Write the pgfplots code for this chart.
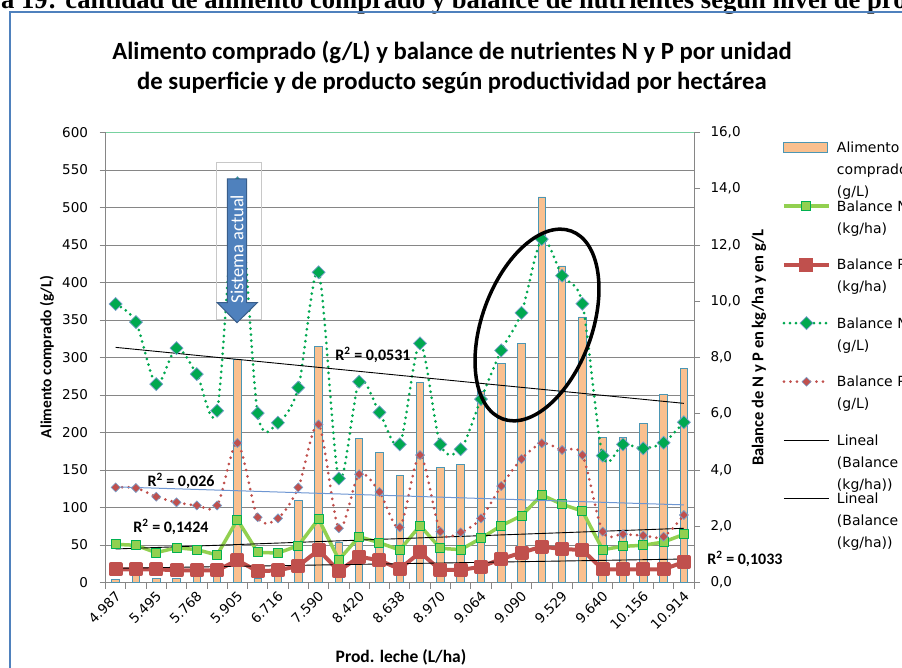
\documentclass[border=0pt]{standalone}
\usepackage{pgfplots}
\usepackage{pgfplotstable}
\pgfplotsset{compat=1.18}
\usepackage{fontspec}
\setmainfont{DejaVu Sans}
\newfontfamily\calibri{Carlito}
\newfontfamily\timesf{Liberation Serif}
\usetikzlibrary{shapes.geometric}

\definecolor{barfill}{RGB}{250,192,143}
\definecolor{barline}{RGB}{75,150,180}
\definecolor{ngreen}{RGB}{146,208,80}
\definecolor{ndark}{RGB}{0,176,80}
\definecolor{pred}{RGB}{192,80,77}
\definecolor{dgreen}{RGB}{0,168,80}
\definecolor{gridgray}{RGB}{134,134,134}
\definecolor{topgreen}{RGB}{120,210,160}
\definecolor{steel}{RGB}{120,160,205}
\definecolor{trendblue}{RGB}{110,150,210}
\definecolor{arrowblue}{RGB}{79,129,189}
\definecolor{arrowdark}{RGB}{56,93,138}
\definecolor{framegray}{RGB}{200,200,200}
\definecolor{chartframe}{RGB}{79,129,189}

\pgfplotstableread{
x bar nkg pkg ngl pgl
0 4 50.9 17.6 9.90 3.38
1 20 49.6 17.6 9.26 3.36
2 6 39.8 17.6 7.05 3.05
3 5 46.4 16.2 8.33 2.85
4 18 43.8 16.2 7.41 2.74
5 8 36.7 16.2 6.11 2.74
6 297 83.8 29.6 14.2 4.96
7 6 40.2 14.9 6.02 2.32
8 18 39.3 16.2 5.68 2.28
9 110 49.1 22.0 6.93 3.38
10 315 84.7 43.3 11.03 5.62
11 54 30.4 15.3 3.70 1.93
12 192 61.1 34.4 7.14 3.85
13 174 53.0 29.5 6.05 3.22
14 143 43.3 18.0 4.91 1.96
15 267 75.8 40.2 8.50 4.53
16 154 45.6 16.7 4.91 1.81
17 157 43.8 16.7 4.74 1.78
18 255 58.9 21.0 6.52 2.28
19 292 75.8 31.3 8.25 3.43
20 319 89.1 39.8 9.59 4.39
21 514 116.7 47.8 12.21 4.95
22 422 104.2 44.7 10.91 4.71
23 354 95.3 43.3 9.91 4.53
24 194 43.8 17.6 4.51 1.81
25 194 48.2 17.6 4.91 1.72
26 212 49.6 17.6 4.77 1.67
27 251 54.0 17.6 4.97 1.63
28 285 64.2 27.3 5.70 2.40
}\datatable

\newcommand\legtext[2]{\parbox[t][#1][t]{120pt}{\fontsize{14}{22}\selectfont\strut #2}}

\pgfplotsset{
  commonaxis/.style={
    at={(105.5pt,84.5pt)}, anchor=south west,
    scale only axis, width=588.5pt, height=450pt,
    xmin=-0.5, xmax=28.5,
    axis line style={draw=gridgray, line width=0.8pt, -},
    tick align=outside, major tick length=6pt,
    tick style={draw=gridgray, line width=0.8pt},
    tick label style={font=\fontsize{13.5}{16}\selectfont, text=black},
    /pgf/number format/assume math mode=true,
  },
  mylegline/.style={legend image code/.code={%
    \draw[mark repeat=2, mark phase=2, ##1] plot coordinates {(0pt,5pt) (22.5pt,5pt) (45pt,5pt)};}},
  barlegend/.style={legend image code/.code={%
    \draw[fill=barfill, draw=barline, line width=1pt] (0pt,0pt) rectangle (44pt,10pt);}},
}

\begin{document}
\begin{tikzpicture}[x=1pt,y=1pt]
\useasboundingbox (0,0) rectangle (902,667);
\clip (0,0) rectangle (902,667);

% heading (cropped in the reference)
\node[anchor=base west, inner sep=0pt] at (1,658.5) {\fontsize{26.6}{30}\timesf\bfseries a 19: cantidad de alimento comprado y balance de nutrientes según nivel de pro};
% chart frame
\draw[chartframe, line width=2pt] (10,-5) -- (10,654.5) -- (910,654.5);

% title
\node[anchor=base, inner sep=0pt] at (452,607) {\fontsize{24.7}{28}\calibri\bfseries Alimento comprado (g/L) y balance de nutrientes N y P por unidad};
\node[anchor=base, inner sep=0pt] at (452,577) {\fontsize{24.7}{28}\calibri\bfseries de superficie y de producto según productividad por hectárea};

\begin{axis}[commonaxis,
  ymin=0, ymax=600,
  axis y line*=left, axis x line*=bottom,
  xtick={-0.5,0.5,...,28.5}, xticklabels={},
  extra x ticks={0,2,...,28},
  extra x tick labels={4.987,5.495,5.768,5.905,6.716,7.590,8.420,8.638,8.970,9.064,9.090,9.529,9.640,10.156,10.914},
  extra x tick style={major tick length=0pt, xticklabel style={xshift=5pt, yshift=-9pt, rotate=45, anchor=east}},
  ytick={0,50,...,550},
  extra y ticks={600},
  extra y tick style={major grid style={draw=topgreen, line width=1.5pt}},
  yticklabel style={xshift=-8pt},
  ymajorgrids, major grid style={draw=gridgray, line width=0.8pt},
  ylabel={\fontsize{15.5}{19}\calibri\bfseries Alimento comprado (g/L)},
  ylabel style={at={(axis description cs:-0.0994,0.501)}, anchor=center},
  xlabel={\fontsize{17.5}{20}\calibri\bfseries Prod. leche (L/ha)},
  xlabel style={at={(axis description cs:0.5021,-0.1767)}, anchor=base},
]
\addplot[ybar, bar width=7.5pt, fill=barfill, draw=barline, line width=0.9pt] table[x=x, y=bar] {\datatable};
\addplot[color=ngreen, line width=3.5pt, line join=round, mark=square*, mark size=4.5pt,
  mark options={fill=ngreen, draw=ndark, line width=1pt}] table[x=x, y=nkg] {\datatable};
\addplot[color=pred, line width=4pt, line join=round, mark=square*, mark size=5pt,
  mark options={fill=pred, draw=pred}] table[x=x, y=pkg] {\datatable};
\addplot[black, line width=0.9pt] coordinates {(0,44.7) (28,72.3)};
\addplot[black, line width=0.9pt] coordinates {(0,18.9) (28,31.3)};
\end{axis}

\begin{axis}[commonaxis,
  ymin=0, ymax=16,
  axis y line*=right, axis x line=none,
  ytick={0,2,...,16},
  yticklabel style={xshift=7pt, /pgf/number format/fixed, /pgf/number format/fixed zerofill,
    /pgf/number format/precision=1, /pgf/number format/use comma},
  ylabel={\fontsize{16.5}{20}\calibri\bfseries Balance de N y P en kg/ha y en g/L},
  ylabel style={at={(axis description cs:1.1105,0.5222)}, anchor=center},
  mylegline,
  legend style={at={(axis description cs:1.1495,0.9893)}, anchor=north west,
    draw=none, fill=none, inner sep=0pt, outer sep=0pt, row sep=0pt, column sep=6pt,
    nodes={inner sep=0pt, outer sep=0pt, text depth=, text height=}, cells={anchor=base west}},
]
\addlegendimage{barlegend}
\addlegendentry{\legtext{58.5pt}{Alimento\\comprado\\(g/L)}}
\addlegendimage{color=ngreen, line width=3.5pt, mark=square*, mark size=4.5pt,
  mark options={fill=ngreen, draw=ndark, line width=1pt}}
\addlegendentry{\legtext{58.5pt}{Balance N\\(kg/ha)}}
\addlegendimage{color=pred, line width=4pt, mark=square*, mark size=5pt,
  mark options={fill=pred, draw=pred}}
\addlegendentry{\legtext{58.5pt}{Balance P\\(kg/ha)}}
\addplot[smooth, tension=0.5, color=dgreen, line width=3pt, line cap=round, dash pattern=on 0pt off 6pt,
  mark=square*, mark size=4.6pt, mark options={solid, rotate=45, fill=dgreen, draw=steel, line width=0.7pt}]
  table[x=x, y=ngl] {\datatable};
\addlegendentry{\legtext{58.5pt}{Balance N\\(g/L)}}
\addplot[smooth, tension=0.5, color=pred, line width=3pt, line cap=round, dash pattern=on 0pt off 6.5pt,
  mark=square*, mark size=3.2pt, mark options={solid, rotate=45, fill=pred, draw=steel, line width=0.6pt}]
  table[x=x, y=pgl] {\datatable};
\addlegendentry{\legtext{58.5pt}{Balance P\\(g/L)}}
\addplot[black, line width=0.9pt, forget plot] coordinates {(0,8.36) (28,6.37)};
\addplot[trendblue, line width=1pt, forget plot] coordinates {(0,3.40) (28,2.76)};
\addlegendimage{black, line width=0.9pt}
\addlegendentry{\legtext{58.5pt}{Lineal\\(Balance N\\(kg/ha))}}
\addlegendimage{black, line width=0.9pt}
\addlegendentry{\legtext{58.5pt}{Lineal\\(Balance P\\(kg/ha))}}
\end{axis}

% R^2 labels
\node[font=\fontsize{16}{18}\calibri\bfseries] at (373,312) {R\textsuperscript{2} = 0,0531};
\node[font=\fontsize{16}{18}\calibri\bfseries] at (181,186) {R\textsuperscript{2} = 0,026};
\node[font=\fontsize{16}{18}\calibri\bfseries] at (171,140) {R\textsuperscript{2} = 0,1424};
\node[font=\fontsize{16}{18}\calibri\bfseries] at (745,108) {R\textsuperscript{2} = 0,1033};

% "Sistema actual" arrow
\draw[framegray, line width=0.8pt] (216.7,504.7) rectangle (261,348);
\draw[fill=arrowblue, draw=arrowdark, line width=1pt] (227.3,488) -- (246.7,488) -- (246.7,364.3) -- (257.3,364.3) -- (237,344.3) -- (217.3,364.3) -- (227.3,364.3) -- cycle;
\node[rotate=90, text=white, font=\fontsize{18.5}{20}\calibri] at (237,418) {Sistema actual};

% ellipse
\node[draw=black, ellipse, line width=3.5pt, minimum width=200pt, minimum height=110pt, inner sep=0pt, rotate=70] at (537,342) {};
\end{tikzpicture}
\end{document}
